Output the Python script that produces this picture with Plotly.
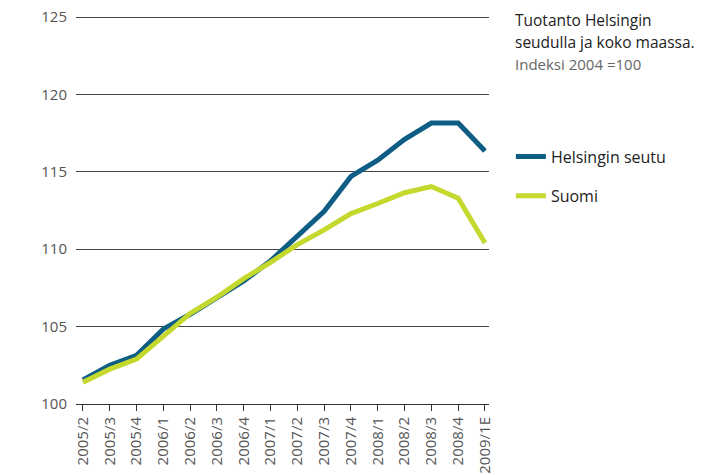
import plotly.graph_objects as go

quarters = ["2005/2", "2005/3", "2005/4", "2006/1", "2006/2", "2006/3", "2006/4",
            "2007/1", "2007/2", "2007/3", "2007/4", "2008/1", "2008/2", "2008/3",
            "2008/4", "2009/1E"]
helsinki = [101.55, 102.5, 103.15, 104.85, 105.8, 106.85, 107.95, 109.25, 110.8,
            112.45, 114.7, 115.75, 117.1, 118.15, 118.15, 116.35]
suomi = [101.4, 102.25, 102.9, 104.35, 105.85, 106.9, 108.1, 109.15, 110.3,
         111.25, 112.3, 112.95, 113.65, 114.05, 113.3, 110.4]
y_ticks = [100, 105, 110, 115, 120, 125]

BLUE = "#0e5d85"
GREEN = "#c4d82e"
FONT = "Open Sans"

fig = go.Figure()
fig.add_trace(go.Scatter(x=quarters, y=helsinki, mode="lines", name="Helsingin seutu",
                         line=dict(color=BLUE, width=5), legend="legend", showlegend=True))
fig.add_trace(go.Scatter(x=quarters, y=suomi, mode="lines", name="Suomi",
                         line=dict(color=GREEN, width=5), legend="legend2", showlegend=True))

fig.update_layout(
    width=698, height=467,
    showlegend=True,
    margin=dict(l=68, r=217, t=7, b=71, autoexpand=False),
    plot_bgcolor="white", paper_bgcolor="white",
    font=dict(family=FONT, size=15, color="#555"),
    xaxis=dict(
        type="category", range=[-0.26, 15.15], automargin=False,
        showgrid=False, showline=True, linecolor="#333", linewidth=1,
        ticks="outside", ticklen=6, tickcolor="#333", tickwidth=1,
        tickangle=-90, tickfont=dict(size=15, color="#555"),
        ticklabeloverflow="allow",
    ),
    yaxis=dict(
        range=[100, 125.13], tickvals=y_ticks, showgrid=True, gridcolor="#444",
        gridwidth=1, zeroline=False, showline=False, ticks="", automargin=False,
        tickfont=dict(size=15, color="#555"), ticklabelstandoff=8,
        ticklabeloverflow="allow",
    ),
    legend=dict(x=1.053, y=0.636, xanchor="left", yanchor="middle",
                font=dict(size=16, color="#222", family=FONT), bgcolor="rgba(0,0,0,0)"),
    legend2=dict(x=1.053, y=0.535, xanchor="left", yanchor="middle",
                 font=dict(size=16, color="#222", family=FONT), bgcolor="rgba(0,0,0,0)"),
    annotations=[
        dict(text="Tuotanto Helsingin", x=1.058, y=0.987, xref="paper", yref="paper",
             xanchor="left", yanchor="middle", showarrow=False,
             font=dict(size=15.5, color="#222", family=FONT)),
        dict(text="seudulla ja koko maassa.", x=1.058, y=0.930, xref="paper", yref="paper",
             xanchor="left", yanchor="middle", showarrow=False,
             font=dict(size=15.5, color="#222", family=FONT)),
        dict(text="Indeksi 2004 =100", x=1.058, y=0.873, xref="paper", yref="paper",
             xanchor="left", yanchor="middle", showarrow=False,
             font=dict(size=15, color="#666", family=FONT)),
    ],
)

fig.write_html("out.html")
